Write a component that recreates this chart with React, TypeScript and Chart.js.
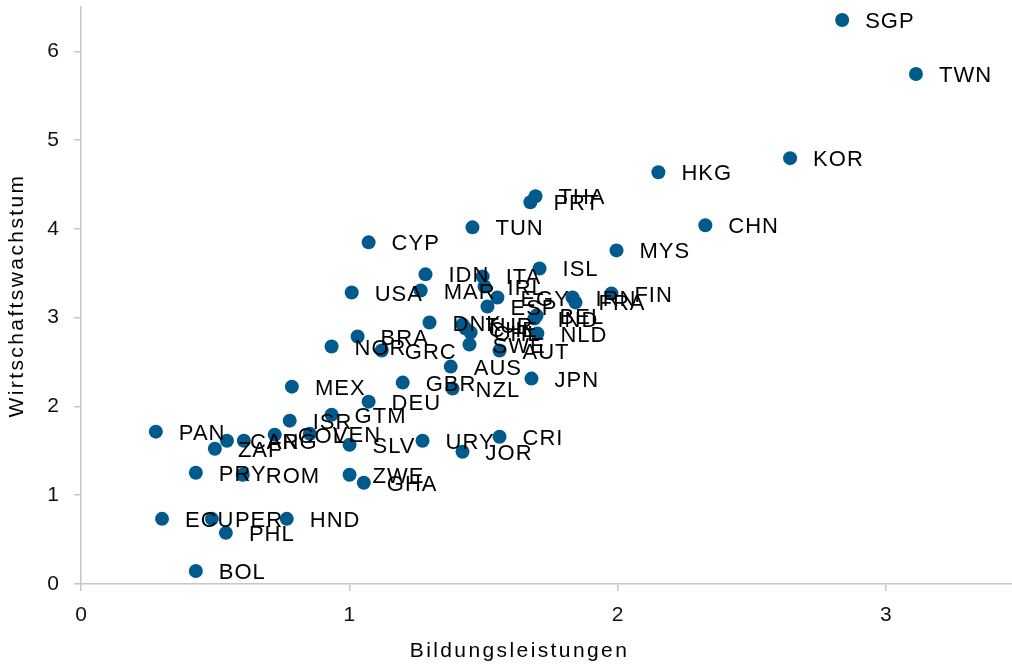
import React, { useEffect, useRef } from "react";
import { Chart, registerables } from "chart.js";

Chart.register(...registerables);

const countries = [
  "SGP", "TWN", "KOR", "HKG", "CHN", "MYS", "THA", "PRT", "TUN", "CYP",
  "ISL", "IDN", "ITA", "IRL", "USA", "MAR", "EGY", "ESP", "IRN", "FRA",
  "FIN", "BEL", "IND", "NLD", "DNK", "TUR", "CHE", "CHL", "SWE", "AUT",
  "BRA", "NOR", "GRC", "AUS", "GBR", "NZL", "JPN", "MEX", "DEU", "GTM",
  "ISR", "PAN", "COL", "VEN", "CAN", "ARG", "ZAF", "SLV", "URY", "CRI",
  "JOR", "PRY", "ROM", "ZWE", "GHA", "ECU", "PER", "HND", "PHL", "BOL",
];

const education = [
  2.837, 3.112, 2.643, 2.152, 2.327, 1.996, 1.694, 1.675, 1.459, 1.072,
  1.709, 1.284, 1.497, 1.504, 1.009, 1.266, 1.552, 1.515, 1.832, 1.843,
  1.977, 1.698, 1.690, 1.701, 1.299, 1.422, 1.433, 1.452, 1.448, 1.560,
  1.031, 0.934, 1.121, 1.378, 1.199, 1.385, 1.679, 0.786, 1.072, 0.934,
  0.778, 0.279, 0.722, 0.853, 0.544, 0.607, 0.499, 1.001, 1.273, 1.560,
  1.422, 0.428, 0.603, 1.001, 1.054, 0.302, 0.488, 0.767, 0.540, 0.428,
];

const growth = [
  6.354, 5.745, 4.797, 4.639, 4.041, 3.758, 4.368, 4.300, 4.018, 3.849,
  3.555, 3.488, 3.465, 3.352, 3.284, 3.307, 3.228, 3.126, 3.228, 3.172,
  3.273, 3.025, 2.991, 2.822, 2.946, 2.923, 2.878, 2.833, 2.698, 2.630,
  2.788, 2.675, 2.630, 2.449, 2.269, 2.201, 2.314, 2.223, 2.054, 1.907,
  1.840, 1.716, 1.682, 1.693, 1.614, 1.614, 1.524, 1.569, 1.614, 1.659,
  1.490, 1.253, 1.230, 1.230, 1.140, 0.734, 0.734, 0.734, 0.576, 0.147,
];

const xTicks = [0, 1, 2, 3];
const yTicks = [0, 1, 2, 3, 4, 5, 6];

const xTitle = "Bildungsleistungen";
const yTitle = "Wirtschaftswachstum";

const FONT = "'Liberation Sans', Arial, sans-serif";
const AXIS_COLOR = "#c6c6c6";
const POINT_COLOR = "#005a8c";

const labelPlugin = {
  id: "countryLabels",
  afterDatasetsDraw(chart: any) {
    const ctx = chart.ctx;
    const meta = chart.getDatasetMeta(0);
    ctx.save();
    ctx.font = `22px ${FONT}`;
    (ctx as any).letterSpacing = "1px";
    ctx.fillStyle = "#000000";
    ctx.textAlign = "left";
    ctx.textBaseline = "middle";
    meta.data.forEach((el: any, i: number) => {
      ctx.fillText(countries[i], el.x + 23, el.y + 2);
    });
    ctx.restore();
  },
};

const titlePlugin = {
  id: "axisTitles",
  afterDraw(chart: any) {
    const ctx = chart.ctx;
    const area = chart.chartArea;
    ctx.save();
    ctx.font = `21px ${FONT}`;
    (ctx as any).letterSpacing = "2.4px";
    ctx.fillStyle = "#000000";
    ctx.textAlign = "center";
    ctx.textBaseline = "alphabetic";
    const xc = area.left + (area.right - area.left) * 0.471;
    ctx.fillText(xTitle, xc, chart.height - 10);
    ctx.translate(23, (area.top + area.bottom) / 2);
    ctx.rotate(-Math.PI / 2);
    ctx.fillText(yTitle, 0, 0);
    ctx.restore();
  },
};

export default function App() {
  const canvasRef = useRef<HTMLCanvasElement | null>(null);

  useEffect(() => {
    const canvas = canvasRef.current;
    if (!canvas) return;
    const points = education.map((x, i) => ({ x, y: growth[i] }));
    const chart = new Chart(canvas, {
      type: "scatter",
      data: {
        datasets: [
          {
            data: points,
            backgroundColor: POINT_COLOR,
            borderColor: POINT_COLOR,
            borderWidth: 0,
            pointRadius: 7,
            pointHoverRadius: 7,
          },
        ],
      },
      options: {
        animation: false,
        responsive: false,
        devicePixelRatio: 1,
        layout: {
          autoPadding: false,
          padding: { top: 7, right: 0, left: 0, bottom: 0 },
        },
        plugins: {
          legend: { display: false },
          tooltip: { enabled: false },
        },
        scales: {
          x: {
            type: "linear",
            min: 0,
            max: 3.47,
            afterBuildTicks: (scale: any) => {
              scale.ticks = xTicks.map((v) => ({ value: v }));
            },
            afterFit: (scale: any) => {
              scale.height = 83;
              scale.paddingLeft = 0;
              scale.paddingRight = 0;
            },
            grid: {
              drawOnChartArea: false,
              drawTicks: true,
              tickLength: 7,
              color: AXIS_COLOR,
              lineWidth: 1.5,
            },
            border: { display: true, color: AXIS_COLOR, width: 1.5 },
            ticks: {
              color: "#111111",
              font: { family: FONT, size: 21 },
              padding: 12,
              maxRotation: 0,
            },
            title: { display: false },
          },
          y: {
            type: "linear",
            min: 0,
            max: 6.5,
            afterBuildTicks: (scale: any) => {
              scale.ticks = yTicks.map((v) => ({ value: v }));
            },
            afterFit: (scale: any) => {
              scale.width = 81;
              scale.paddingTop = 0;
              scale.paddingBottom = 0;
            },
            grid: {
              drawOnChartArea: false,
              drawTicks: true,
              tickLength: 7,
              color: AXIS_COLOR,
              lineWidth: 1.5,
            },
            border: { display: true, color: AXIS_COLOR, width: 1.5 },
            ticks: {
              color: "#111111",
              font: { family: FONT, size: 21 },
              padding: 15,
            },
            title: { display: false },
          },
        },
      },
      plugins: [labelPlugin, titlePlugin],
    });
    return () => chart.destroy();
  }, []);

  return (
    <div
      style={{
        position: "fixed",
        left: 0,
        top: 0,
        width: 1012,
        height: 667,
        background: "#ffffff",
      }}
    >
      <canvas
        ref={canvasRef}
        width={1012}
        height={667}
        style={{ display: "block", width: 1012, height: 667 }}
      />
    </div>
  );
}
